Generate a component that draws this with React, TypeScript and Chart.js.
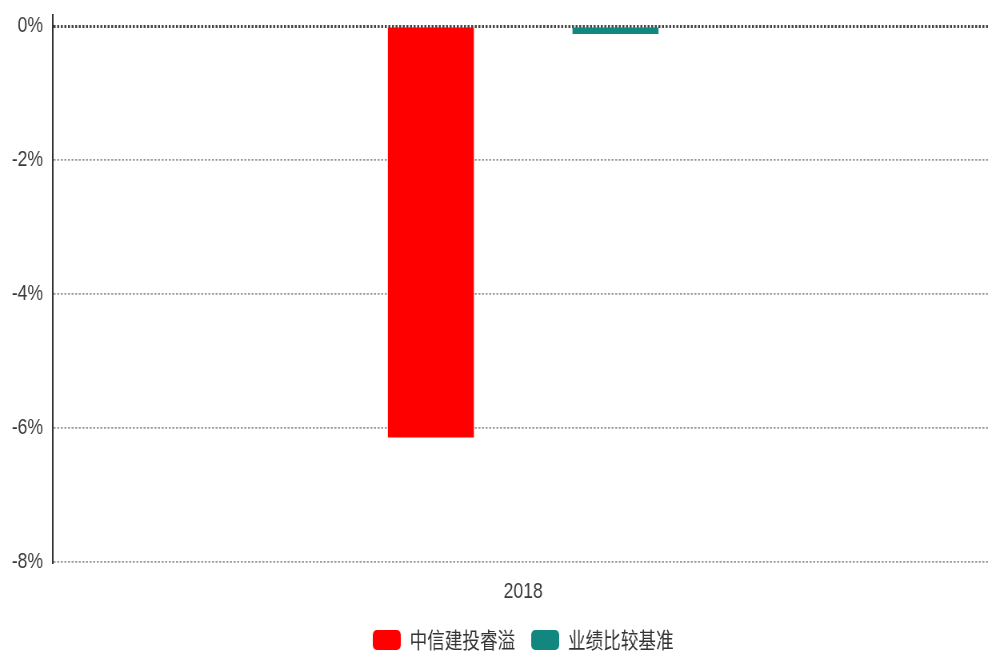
import React, { useEffect, useRef } from 'react';
import { Chart, registerables } from 'chart.js';

Chart.register(...registerables);

const categories = ['2018'];
const seriesNames = ['中信建投睿溢', '业绩比较基准'];
const fundValues = [-6.14];
const benchValues = [-0.12];
const yTicks = [0, -2, -4, -6, -8];
const yMin = -8;
const yMax = 0.165;

const SQUISH = 0.8;
const W = 1308;
const H = 661;
const FONT = "'Liberation Sans', Arial, sans-serif";

export default function App() {
  const ref = useRef<HTMLCanvasElement>(null);
  useEffect(() => {
    document.body.style.margin = '0';
    document.body.style.overflow = 'hidden';
    const chart = new Chart(ref.current as HTMLCanvasElement, {
      type: 'bar',
      data: {
        labels: categories,
        datasets: [
          { label: seriesNames[0], data: fundValues, backgroundColor: '#ff0000', borderWidth: 0 },
          { label: seriesNames[1], data: benchValues, backgroundColor: '#12877f', borderWidth: 0 },
        ],
      },
      options: {
        animation: false,
        responsive: true,
        maintainAspectRatio: false,
        layout: { padding: { top: 15, left: 0, right: 0, bottom: 0 } },
        datasets: { bar: { categoryPercentage: 0.3926, barPercentage: 0.466 } },
        scales: {
          x: {
            grid: { display: false },
            border: { display: false },
            ticks: { font: { family: FONT, size: 22 }, color: '#3a3a3a', padding: 9 },
            afterFit: (s: any) => { s.height = 47; },
          },
          y: {
            min: yMin,
            max: yMax,
            afterBuildTicks: (s: any) => { s.ticks = yTicks.map((v) => ({ value: v })); },
            ticks: {
              callback: (v: any) => v + '%',
              padding: 0,
              font: { family: FONT, size: 22 },
              color: '#3a3a3a',
            },
            grid: {
              drawTicks: true,
              tickLength: 12.5,
              tickColor: 'rgba(0,0,0,0)',
              color: (c: any) => (c.tick && c.tick.value === 0 ? '#444' : '#999'),
              lineWidth: (c: any) => (c.tick && c.tick.value === 0 ? 3 : 1.8),
            },
            border: { display: true, color: '#333', width: 2, dash: [2.5, 2] },
            afterFit: (s: any) => { s.width = 66.25; },
          },
          yr: {
            position: 'right',
            grid: { display: false },
            border: { display: false },
            ticks: { display: false },
            afterFit: (s: any) => { s.width = 66.25; },
          },
        },
        plugins: {
          legend: {
            position: 'bottom',
            labels: {
              font: { family: "'Noto Sans CJK SC', sans-serif", size: 22 },
              color: '#333',
              boxWidth: 35,
              boxHeight: 20,
              padding: 20,
              useBorderRadius: true,
              borderRadius: 5,
            },
          },
          tooltip: { enabled: false },
        },
      } as any,
    });
    return () => chart.destroy();
  }, []);
  return (
    <div
      style={{
        position: 'fixed',
        left: 0,
        top: 0,
        width: W,
        height: H,
        transform: `scaleX(${SQUISH})`,
        transformOrigin: '0 0',
      }}
    >
      <canvas ref={ref} />
    </div>
  );
}
